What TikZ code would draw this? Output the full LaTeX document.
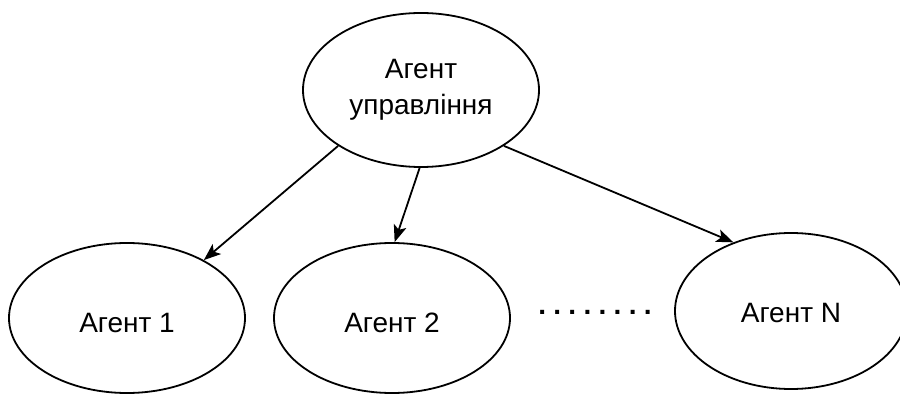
\documentclass[tikz,border=0pt]{standalone}
\usepackage{fontspec}
\setmainfont{Liberation Sans}
\usetikzlibrary{shapes.geometric,arrows.meta}
\tikzset{
  agent/.style={ellipse, draw=black, line width=1.8pt, inner sep=0pt,
    minimum width=236pt, minimum height=154pt, align=center,
    font=\fontsize{28}{36}\selectfont},
  link/.style={line width=1.8pt, -{Stealth[length=17pt,width=13pt,inset=4pt]}}
}
\newcommand{\gapdot}{\kern7.3pt.}
\begin{document}
\begin{tikzpicture}[x=1pt,y=-1pt]
  \useasboundingbox (0,0) rectangle (900,395);
  % control agent at the top
  \node[agent] (ctrl) at (421,90) {Агент\\управління};
  % worker agents
  \node[agent, minimum height=150pt, text height=30pt] (a1) at (127,318) {Агент 1};
  \node[agent, minimum height=150pt, text height=30pt] (a2) at (392,318) {Агент 2};
  \node[agent, minimum width=232pt, minimum height=156pt, text height=24pt] (aN) at (791,311) {Агент N};
  % ellipsis between the agents
  \node[font=\fontsize{28}{36}\selectfont\bfseries, inner sep=0pt, anchor=base] (dots) at (595,315)
    {.\gapdot\gapdot\gapdot\gapdot\gapdot\gapdot\gapdot};
  % links from the control agent
  \draw[link] (ctrl.214.6) -- (a1.37.6);
  \draw[link] (ctrl.269) -- (a2.88);
  \draw[link] (ctrl.-34.6) -- (aN.130.7);
\end{tikzpicture}
\end{document}
